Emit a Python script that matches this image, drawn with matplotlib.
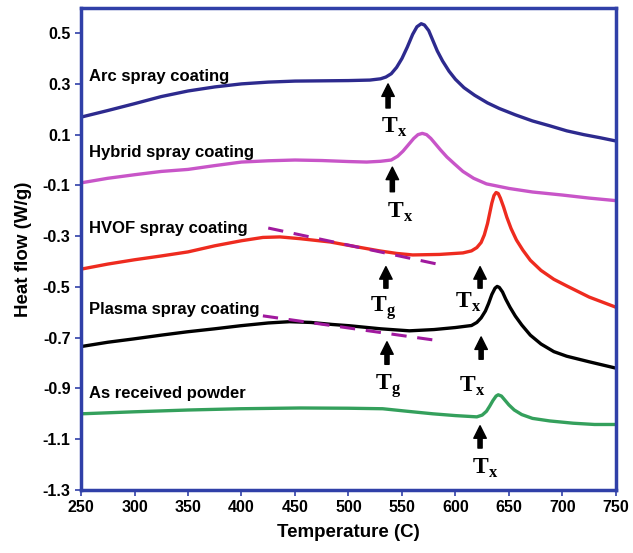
import matplotlib
matplotlib.use("Agg")
import matplotlib.pyplot as plt

plt.rcParams['font.family'] = ['Liberation Sans', 'DejaVu Sans']
plt.rcParams['mathtext.fontset'] = 'custom'
plt.rcParams['mathtext.rm'] = 'Liberation Serif'
plt.rcParams['mathtext.bf'] = 'Liberation Serif:bold'

# DSC curves (temperature in C, heat flow in W/g)
arc_t = [250, 275, 300, 325, 350, 375, 400, 425, 450, 475, 500, 520, 530, 535, 540, 545,
         550, 555, 560, 564, 568, 571, 575, 579, 583, 588, 594, 600, 608, 618, 630, 641,
         656, 672, 688, 704, 720, 735, 750]
arc_q = [0.169, 0.195, 0.222, 0.250, 0.272, 0.288, 0.300, 0.307, 0.311, 0.312, 0.313, 0.315,
         0.320, 0.327, 0.340, 0.365, 0.400, 0.445, 0.495, 0.525, 0.537, 0.532, 0.510, 0.470,
         0.430, 0.390, 0.350, 0.318, 0.285, 0.255, 0.225, 0.203, 0.178, 0.154, 0.135, 0.115,
         0.100, 0.088, 0.075]

hyb_t = [250, 275, 300, 325, 350, 375, 400, 425, 450, 475, 500, 517, 530, 540, 546, 551,
         556, 561, 565, 569, 573, 577, 581, 586, 592, 599, 607, 617, 629, 650, 672, 700,
         725, 750]
hyb_q = [-0.090, -0.072, -0.058, -0.045, -0.037, -0.022, -0.008, -0.003, 0.000, -0.002,
         -0.006, -0.008, -0.005, 0.000, 0.015, 0.035, 0.060, 0.085, 0.100, 0.105, 0.100,
         0.085, 0.065, 0.040, 0.012, -0.015, -0.045, -0.072, -0.094, -0.112, -0.126,
         -0.138, -0.150, -0.160]

hvof_t = [250, 275, 300, 325, 350, 375, 400, 420, 436, 455, 483, 505, 529, 545, 560, 585,
          607, 615, 620, 624, 627, 630, 632, 634, 636, 638, 640, 642, 645, 648, 652, 657,
          663, 670, 680, 692, 704, 725, 750]
hvof_q = [-0.430, -0.410, -0.393, -0.378, -0.362, -0.338, -0.318, -0.305, -0.303, -0.310,
          -0.323, -0.340, -0.358, -0.368, -0.374, -0.372, -0.366, -0.358, -0.345, -0.325,
          -0.295, -0.250, -0.210, -0.170, -0.140, -0.128, -0.132, -0.150, -0.185, -0.225,
          -0.270, -0.315, -0.355, -0.395, -0.435, -0.470, -0.496, -0.540, -0.580]

plasma_t = [250, 275, 299, 325, 349, 375, 399, 425, 445, 465, 485, 501, 530, 557, 580, 600,
            615, 620, 624, 628, 631, 634, 637, 639, 641, 644, 647, 651, 656, 662, 670, 680,
            692, 704, 725, 750]
plasma_q = [-0.735, -0.718, -0.705, -0.690, -0.677, -0.665, -0.653, -0.642, -0.637, -0.640,
            -0.648, -0.653, -0.665, -0.673, -0.668, -0.660, -0.652, -0.640, -0.622, -0.595,
            -0.565, -0.530, -0.505, -0.498, -0.502, -0.520, -0.548, -0.580, -0.615, -0.650,
            -0.690, -0.725, -0.755, -0.773, -0.795, -0.820]

powder_t = [250, 300, 350, 399, 455, 500, 532, 555, 579, 600, 620, 625, 629, 632, 635, 638,
            640, 643, 646, 650, 655, 662, 672, 688, 710, 730, 750]
powder_q = [-1.000, -0.992, -0.985, -0.980, -0.977, -0.978, -0.980, -0.990, -1.000, -1.007,
            -1.012, -1.005, -0.990, -0.970, -0.948, -0.930, -0.925, -0.930, -0.945, -0.965,
            -0.985, -1.003, -1.018, -1.028, -1.037, -1.042, -1.042]

labels = ["Arc spray coating", "Hybrid spray coating", "HVOF spray coating",
          "Plasma spray coating", "As received powder"]
label_y = [0.33, 0.028, -0.268, -0.59, -0.92]

# tangent lines used for Tg
tan_t = [[425, 583], [420, 581]]
tan_q = [[-0.268, -0.41], [-0.614, -0.71]]

# arrows: x position, tip, base; text position and text
arrow_x = [537, 541, 535, 623, 536, 624, 623]
arrow_tip = [0.300, -0.028, -0.420, -0.420, -0.716, -0.697, -1.047]
arrow_base = [0.205, -0.125, -0.505, -0.505, -0.805, -0.785, -1.135]
mark_x = [543, 548, 532, 612, 537, 616, 628]
mark_y = [0.13, -0.205, -0.585, -0.56, -0.892, -0.89, -1.217]
mark_txt = [r"$\mathbf{T}_{\mathbf{x}}$", r"$\mathbf{T}_{\mathbf{x}}$", r"$\mathbf{T}_{\mathbf{g}}$",
            r"$\mathbf{T}_{\mathbf{x}}$", r"$\mathbf{T}_{\mathbf{g}}$", r"$\mathbf{T}_{\mathbf{x}}$",
            r"$\mathbf{T}_{\mathbf{x}}$"]

x_ticks = list(range(250, 751, 50))
y_ticks = [0.5, 0.3, 0.1, -0.1, -0.3, -0.5, -0.7, -0.9, -1.1, -1.3]

frame = "#3040a8"

fig = plt.figure(figsize=(6.33, 5.53), dpi=100)
ax = fig.add_axes([0.128, 0.114, 0.845, 0.872])

style = dict(lw=2.4, solid_joinstyle="round", solid_capstyle="round")
ax.plot(arc_t, arc_q, color="#2d2a8e", **style)
ax.plot(hyb_t, hyb_q, color="#c855c8", **style)
ax.plot(hvof_t, hvof_q, color="#ee2b1f", **style)
ax.plot(plasma_t, plasma_q, color="black", **style)
ax.plot(powder_t, powder_q, color="#34a05c", **style)

for tt, qq in zip(tan_t, tan_q):
    ax.plot(tt, qq, color="#a0199e", lw=2.2, dashes=(5, 3.5))

for lab, ly in zip(labels, label_y):
    ax.text(257.5, ly, lab, fontsize=12, fontweight="bold", ha="left", va="center")

for xa, tip, base in zip(arrow_x, arrow_tip, arrow_base):
    ax.annotate("", xy=(xa, tip), xytext=(xa, base),
                arrowprops=dict(arrowstyle="simple,head_length=0.6,head_width=0.6,tail_width=0.2",
                                color="black", mutation_scale=15, shrinkA=0, shrinkB=0))

for mx, my, mt in zip(mark_x, mark_y, mark_txt):
    ax.text(mx, my, mt, fontsize=17, ha="center", va="center")

ax.set_xlim(250, 750)
ax.set_ylim(-1.3, 0.6)
ax.set_xticks(x_ticks)
ax.set_yticks(y_ticks)
ax.set_yticklabels([f"{v:.1f}" for v in y_ticks])
for lbl in ax.get_xticklabels() + ax.get_yticklabels():
    lbl.set_fontweight("bold")
ax.tick_params(labelsize=11.5, direction="out", length=4, width=1.2, color=frame)
for sp in ax.spines.values():
    sp.set_color(frame)
    sp.set_linewidth(2.5)

ax.set_xlabel("Temperature (C)", fontsize=13.5, fontweight="bold", labelpad=6)
ax.set_ylabel("Heat flow (W/g)", fontsize=13.5, fontweight="bold", labelpad=8)

fig.savefig("out.png", dpi=100)
